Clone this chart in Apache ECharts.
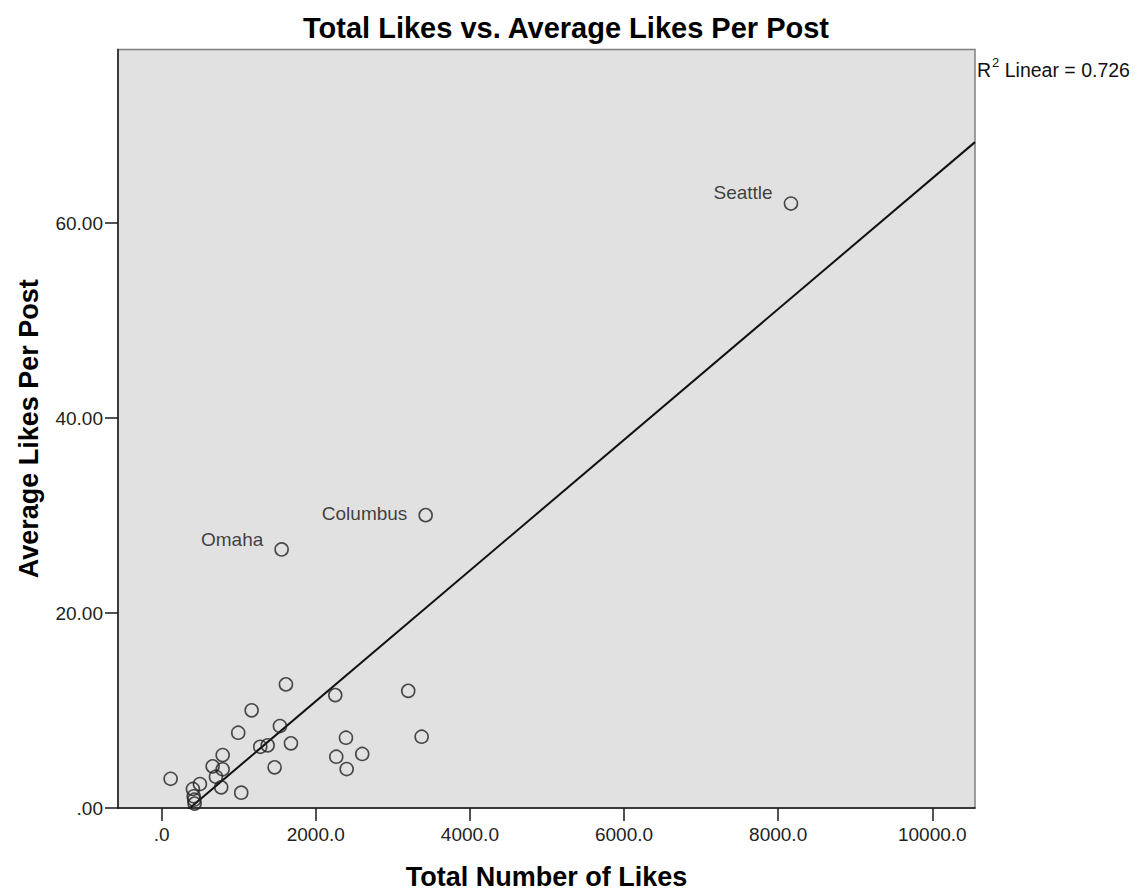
<!DOCTYPE html>
<html>
<head>
<meta charset="utf-8">
<script src="https://cdn.jsdelivr.net/npm/echarts@6/dist/echarts.min.js"></script>
<style>
  html, body { margin: 0; padding: 0; background: #fff; }
  #chart { width: 1140px; height: 891px; }
</style>
</head>
<body>
<div id="chart"></div>
<script>
// City-level observations: total likes vs. average likes per post
const totalLikes = [8166, 3426, 1557, 1613, 2253, 3200, 1168, 1535, 994, 2392, 3374, 1678, 1280, 1376, 792, 2266, 2603, 662, 792, 1466, 2401, 705, 117, 497, 406, 416, 773, 1033, 423, 428];
const avgLikes   = [62.0, 30.04, 26.52, 12.68, 11.58, 12.02, 10.02, 8.41, 7.72, 7.21, 7.31, 6.63, 6.28, 6.43, 5.43, 5.26, 5.54, 4.27, 3.97, 4.17, 4.0, 3.21, 3.0, 2.46, 1.95, 1.2, 2.12, 1.57, 0.85, 0.45];
const cityNames  = ['Seattle', 'Columbus', 'Omaha'];

// Linear fit line (ends at the x-axis extent)
const fitX = [-566, 10554];
const fitY = [-6.26, 68.3];
const rSquared = 0.726;

// Axis ranges and tick marks
const xRange = [-566, 10554];
const yRange = [0, 77.8];
const xTicks = [0, 2000, 4000, 6000, 8000, 10000];
const yTicks = [0, 20, 40, 60];

const FONT = 'Liberation Sans, Arial, sans-serif';
const labelOffsets = { Seattle: [0, -11], Columbus: [0, -2], Omaha: [0, -10] };

const points = totalLikes.map((x, i) => {
  const name = cityNames[i] || '';
  const item = { value: [x, avgLikes[i]], name: name };
  if (name) {
    item.label = {
      show: true, position: 'left', distance: 11, offset: labelOffsets[name],
      formatter: '{b}', fontFamily: FONT, fontSize: 19, color: '#111'
    };
  }
  return item;
});

const chart = echarts.init(document.getElementById('chart'), null, { renderer: 'svg' });

const axisColor = '#1a1a1a';

chart.setOption({
  backgroundColor: '#ffffff',
  animation: false,
  title: {
    text: 'Total Likes vs. Average Likes Per Post',
    left: 561, top: 8, textAlign: 'center',
    textStyle: { fontFamily: FONT, fontSize: 29, fontWeight: 'bold', color: '#000' }
  },
  grid: {
    left: 118, right: 165, top: 49.5, bottom: 83,
    outerBoundsMode: 'none',
    show: true, backgroundColor: '#e1e1e1', borderColor: '#808080', borderWidth: 1.5
  },
  xAxis: {
    type: 'value', min: xRange[0], max: xRange[1],
    name: 'Total Number of Likes', nameLocation: 'middle', nameGap: 55,
    nameTextStyle: { fontFamily: FONT, fontSize: 27, fontWeight: 'bold', color: '#000' },
    axisLine: { show: true, onZero: false, lineStyle: { color: axisColor, width: 1.5 } },
    axisTick: { show: true, length: 13, customValues: xTicks, lineStyle: { color: axisColor, width: 1.5 } },
    axisLabel: {
      customValues: xTicks, margin: 17, fontFamily: FONT, fontSize: 19, color: '#222',
      formatter: v => (v === 0 ? '.0' : v.toFixed(1))
    },
    splitLine: { show: false }
  },
  yAxis: {
    type: 'value', min: yRange[0], max: yRange[1],
    name: 'Average Likes Per Post', nameLocation: 'middle', nameGap: 76, nameRotate: 90,
    nameTextStyle: { fontFamily: FONT, fontSize: 27, fontWeight: 'bold', color: '#000' },
    axisLine: { show: true, onZero: false, lineStyle: { color: axisColor, width: 1.5 } },
    axisTick: { show: true, length: 13, customValues: yTicks, lineStyle: { color: axisColor, width: 1.5 } },
    axisLabel: {
      customValues: yTicks, margin: 15, fontFamily: FONT, fontSize: 19, color: '#222',
      formatter: v => (v === 0 ? '.00' : v.toFixed(2))
    },
    splitLine: { show: false }
  },
  graphic: [{
    type: 'text', left: 977, top: 56, silent: true,
    style: {
      text: '{r|R}{sup|2}{r| Linear = ' + rSquared.toFixed(3) + '}',
      rich: {
        r: { fontFamily: FONT, fontSize: 19.5, fill: '#111', verticalAlign: 'bottom', lineHeight: 24 },
        sup: { fontFamily: FONT, fontSize: 13, fill: '#111', verticalAlign: 'top', lineHeight: 24, padding: [0, 0, 9, 1] }
      }
    }
  }],
  series: [
    {
      type: 'line', name: 'Fit',
      data: fitX.map((x, i) => [x, fitY[i]]),
      showSymbol: false, clip: true, silent: true,
      lineStyle: { color: '#111', width: 2 },
      z: 3
    },
    {
      type: 'scatter', name: 'Cities',
      data: points,
      symbol: 'circle', symbolSize: 13,
      itemStyle: { color: 'rgba(0,0,0,0)', borderColor: '#222', borderWidth: 1.6 },
      z: 4
    }
  ]
});
</script>
</body>
</html>
